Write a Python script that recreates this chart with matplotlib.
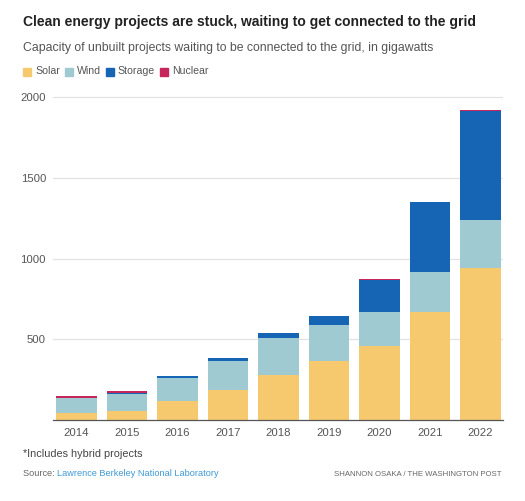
import matplotlib
matplotlib.use("Agg")
import matplotlib.pyplot as plt
import numpy as np

# values in gigawatts
years = ["2014", "2015", "2016", "2017", "2018", "2019", "2020", "2021", "2022"]
solar = [43, 56, 118, 186, 280, 366, 459, 671, 944]
wind = [93, 105, 142, 180, 228, 223, 211, 248, 298]
storage = [0, 8, 13, 18, 32, 56, 200, 430, 675]
nuclear = [12, 10, 0, 0, 0, 0, 5, 5, 5]

series = [("Solar", solar, "#f7c96f"),
          ("Wind", wind, "#9fcad2"),
          ("Storage", storage, "#1565b4"),
          ("Nuclear", nuclear, "#c7265a")]

plt.rcParams["font.family"] = ["Liberation Sans", "DejaVu Sans"]

fig = plt.figure(figsize=(5.25, 5.01), dpi=100)
ax = fig.add_axes([0.101, 0.1617, 0.857, 0.655])

x = np.arange(len(years))
bottom = np.zeros(len(years))
for name, vals, col in series:
    ax.bar(x, vals, bottom=bottom, width=0.81, color=col, zorder=2)
    bottom += np.array(vals)

ax.set_xlim(-0.465, 8.445)
ax.set_ylim(0, 2035)
ax.set_yticks([500, 1000, 1500, 2000])
ax.set_xticks(x)
ax.set_xticklabels(years)
ax.grid(axis="y", color="#e3e3e3", lw=0.9, zorder=0)
for s in ["top", "right", "left"]:
    ax.spines[s].set_visible(False)
ax.spines["bottom"].set_color("#555555")
ax.spines["bottom"].set_linewidth(0.9)
ax.spines["bottom"].set_zorder(3)
ax.tick_params(axis="both", length=0, labelsize=8.2, colors="#555555")
ax.tick_params(axis="y", pad=5)
ax.tick_params(axis="x", pad=6)

fig.text(23 / 525, 1 - 22 / 501, "Clean energy projects are stuck, waiting to get connected to the grid",
         fontsize=10.0, fontweight="bold", color="#222222", va="center")
fig.text(23 / 525, 1 - 48 / 501, "Capacity of unbuilt projects waiting to be connected to the grid, in gigawatts",
         fontsize=8.85, color="#555555", va="center")

# legend
lx = 23
for name, vals, col in series:
    fig.patches.append(plt.Rectangle((lx / 525, 1 - 75.5 / 501), 8 / 525, 8 / 501,
                                     transform=fig.transFigure, color=col))
    t = fig.text((lx + 12) / 525, 1 - 71.5 / 501, name, fontsize=7.6, color="#555555", va="center")
    fig.canvas.draw()
    bb = t.get_window_extent()
    lx = bb.x1 + 5

fig.text(23 / 525, 1 - 454 / 501, "*Includes hybrid projects", fontsize=7.8, color="#444444", va="center")
t = fig.text(23 / 525, 1 - 474 / 501, "Source: ", fontsize=6.6, color="#666666", va="center")
fig.canvas.draw()
fig.text(t.get_window_extent().x1 / 525, 1 - 474 / 501, "Lawrence Berkeley National Laboratory",
         fontsize=6.6, color="#3d9ad6", va="center")
fig.text(501 / 525, 1 - 474 / 501, "SHANNON OSAKA / THE WASHINGTON POST",
         fontsize=5.6, color="#666666", va="center", ha="right")

fig.savefig("out.png", dpi=100)
